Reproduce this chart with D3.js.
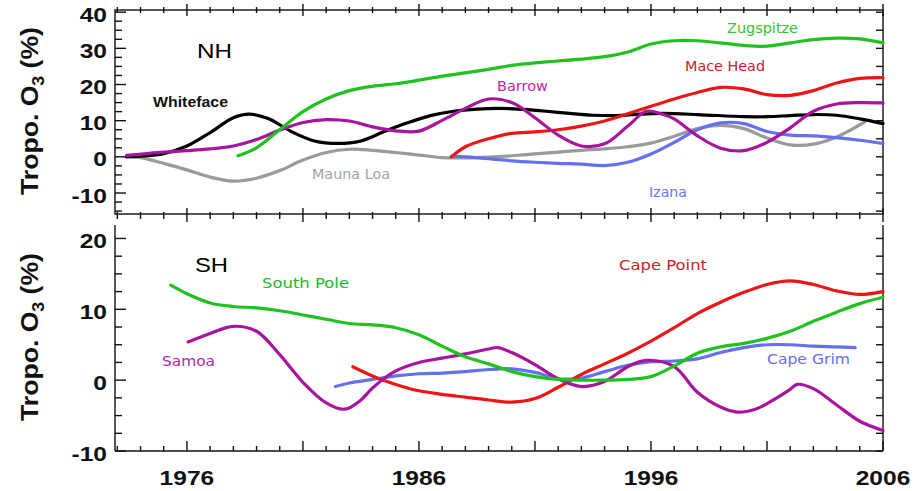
<!DOCTYPE html>
<html>
<head>
<meta charset="utf-8">
<script src="https://cdn.jsdelivr.net/npm/d3@7"></script>
<style>
  body { margin: 0; background: #fff; }
  svg { display: block; }
</style>
</head>
<body>
<div id="chart"></div>
<script>
// station records, [year, tropospheric O3 change in %]
// northern hemisphere
var whiteface = [[1973.4,0],[1974,0.2],[1975,0.9],[1976,3],[1977,6.7],[1978,10.8],[1978.7,11.8],[1979.5,10.6],[1980.5,7],[1981.5,4.4],[1982.5,3.7],[1983.5,4.4],[1984.5,7.0],[1985.5,9.4],[1986.5,11.4],[1987.5,12.6],[1988.5,13.2],[1989.5,13.4],[1990.5,13.1],[1991.5,12.6],[1992.5,12],[1993.5,11.5],[1994.5,11.4],[1995.5,11.8],[1996.5,12.0],[1998,11.7],[2000,11.1],[2001,11.1],[2002,11.4],[2003,11.7],[2004,11.5],[2005,10.5],[2006,9.2]];
var barrow = [[1973.4,0.4],[1975,1.3],[1976,1.7],[1977,2.2],[1978,3.0],[1979,4.8],[1980,7.4],[1981,9.5],[1982,10.3],[1983,9.9],[1984,8.3],[1985,7.2],[1986,7.1],[1987,10.1],[1988,13.4],[1989,16],[1990,15],[1991,10.8],[1992,6],[1993,3],[1994,3.6],[1995,8.5],[1995.8,12.6],[1996.5,11.8],[1997,10.5],[1998,5.8],[1999,2.4],[2000,1.7],[2001,4],[2002,8],[2003,12.6],[2004,14.6],[2005,15],[2006,14.9]];
var zugspitze = [[1978.2,0.3],[1979,2.5],[1980,7.5],[1981,12.5],[1982,16],[1983,18.3],[1984,19.5],[1985,20.2],[1986,21.2],[1987,22.3],[1988,23.2],[1989,24.2],[1990,25.3],[1991,26],[1992,26.5],[1993,27],[1994,27.7],[1995,29],[1996,31.2],[1997,32.1],[1998,32.1],[1999,31.5],[2000,30.8],[2001,30.6],[2002,31.5],[2003,32.4],[2004,32.8],[2005,32.6],[2006,31.5]];
var maceHead = [[1987.4,0],[1988,2.8],[1989,5],[1990,6.5],[1991,6.9],[1992,7.5],[1993,8.5],[1994,9.9],[1995,11.9],[1996,14],[1997,16],[1998,17.8],[1999,19.2],[2000,18.8],[2001,17.2],[2002,17],[2003,18.3],[2004,20.4],[2005,21.7],[2006,21.9]];
var maunaLoa = [[1973.4,0.2],[1974,-0.2],[1975,-1.8],[1976,-3.6],[1977,-5.6],[1978,-6.7],[1979,-5.9],[1980,-3.8],[1981,-0.9],[1982,1.2],[1983,2.1],[1984,1.8],[1985,1.2],[1986,0.5],[1987,-0.2],[1988,-0.3],[1989,-0.1],[1990,0.3],[1991,0.8],[1992,1.3],[1993,1.8],[1994,2.2],[1995,2.8],[1996,3.8],[1997,5.7],[1998,7.8],[1999,8.7],[2000,7.8],[2001,5.2],[2002,3.3],[2003,3.5],[2004,5.5],[2005.2,9.6]];
var izana = [[1987.4,0.2],[1988,0],[1989,-0.5],[1990,-1.1],[1991,-1.5],[1992,-1.8],[1993,-2.0],[1994,-2.4],[1995,-1.5],[1996,0.8],[1997,4],[1998,7.5],[1999,9.4],[2000,9.2],[2001,7],[2002,6],[2003,5.8],[2004,5.3],[2005,4.6],[2006,3.7]];
// southern hemisphere
var southPole = [[1975.3,13.4],[1976,12.2],[1977,10.9],[1978,10.4],[1979,10.2],[1980,9.8],[1981,9.2],[1982,8.6],[1983,8.0],[1984,7.8],[1985,7.4],[1986,6.4],[1987,4.8],[1988,3.3],[1989,2.3],[1990,1.2],[1991,0.5],[1992,0.1],[1993,0],[1994,0],[1995,0.1],[1996,0.5],[1997,2.0],[1998,3.8],[1999,4.7],[2000,5.2],[2001,5.9],[2002,6.9],[2003,8.3],[2004,9.6],[2005,10.8],[2006,11.7]];
var samoa = [[1976.05,5.4],[1977,6.6],[1978,7.6],[1979,6.9],[1980,3.6],[1981,-0.3],[1982,-3.2],[1982.8,-4.1],[1983.5,-2.8],[1984,-1.1],[1985,1.3],[1986,2.5],[1987,3.1],[1988,3.7],[1989,4.4],[1989.4,4.6],[1990,3.9],[1991,2.2],[1992,0.2],[1993,-0.9],[1994,-0.2],[1995,1.9],[1995.8,2.8],[1997,1.9],[1998,-1.7],[1999,-3.8],[1999.7,-4.5],[2000.5,-4.1],[2001,-3.3],[2002,-1.3],[2002.3,-0.6],[2003,-1.2],[2004,-3.5],[2005,-5.8],[2006,-7.1]];
var capePoint = [[1983.15,1.9],[1984,0.6],[1985,-0.6],[1986,-1.5],[1987,-2],[1988,-2.4],[1989,-2.8],[1990,-3.1],[1991,-2.6],[1992,-1.0],[1993,0.8],[1994,2.3],[1995,3.8],[1996,5.5],[1997,7.4],[1998,9.4],[1999,11.0],[2000,12.4],[2001,13.5],[2002,14.0],[2003,13.5],[2004,12.6],[2005,12.1],[2006,12.5]];
var capeGrim = [[1982.4,-0.9],[1983,-0.4],[1984,0.1],[1985,0.6],[1986,0.9],[1987,1.0],[1988,1.2],[1989,1.5],[1990,1.6],[1991,1.1],[1992,0.2],[1993,0.3],[1994,1.2],[1995,2.1],[1996,2.6],[1997,2.7],[1998,3.0],[1999,3.9],[2000,4.6],[2001,5.0],[2002,5.0],[2003,4.8],[2004,4.7],[2004.8,4.6]];

var yearLabels = [1976, 1986, 1996, 2006];
var nhTicks = [-10, 0, 10, 20, 30, 40];
var shTicks = [-10, 0, 10, 20];

var W = 922, H = 491;
var svg = d3.select('#chart').append('svg')
    .attr('width', W)
    .attr('height', H)
    .style('background', '#fff');

var x = d3.scaleLinear().domain([1972.9, 2006]).range([115, 883]);
var yTop = d3.scaleLinear().domain([-15.8, 40.6]).range([214, 10]);
var yBot = d3.scaleLinear().domain([-10, 21.9]).range([451, 225]);

var ax = svg.append('g').attr('stroke', '#111').attr('stroke-width', 1.4).attr('fill', 'none');

function seg(x1, y1, x2, y2) {
    ax.append('line').attr('x1', x1).attr('y1', y1).attr('x2', x2).attr('y2', y2);
}

var L = x.range()[0], R = x.range()[1];
var years = d3.range(1973, 2007);
function major(yr) { return (yr - 1976) % 5 == 0; }

// top panel frame
ax.append('rect').attr('x', L).attr('y', yTop.range()[1])
    .attr('width', R - L).attr('height', yTop.range()[0] - yTop.range()[1]);
years.forEach(function(yr) {
    var t = yTop.range()[1], b = yTop.range()[0];
    if (major(yr)) { seg(x(yr), t - 6, x(yr), t + 6); seg(x(yr), b - 6, x(yr), b + 8); }
    else { seg(x(yr), t - 3, x(yr), t + 3); seg(x(yr), b - 2, x(yr), b + 5); }
});
d3.range(-15, 41, 2.5).forEach(function(v) {
    seg(L, yTop(v), L + (v % 10 == 0 ? 11 : 7), yTop(v));
});
d3.range(-15, 41, 5).forEach(function(v) {
    seg(R, yTop(v), R - 7, yTop(v));
});

// bottom panel (no top line)
seg(L, yBot.range()[1], L, yBot.range()[0]);
seg(R, yBot.range()[1], R, yBot.range()[0]);
seg(L, yBot.range()[0], R, yBot.range()[0]);
years.forEach(function(yr) {
    var b = yBot.range()[0];
    seg(x(yr), b, x(yr), b - (major(yr) ? 10 : 5));
});
d3.range(-10, 21, 2.5).forEach(function(v) {
    seg(L, yBot(v), L + (v % 10 == 0 ? 11 : 7), yBot(v));
    seg(R, yBot(v), R - 7, yBot(v));
});

// tick labels (bold, a bit wide)
function boldNum(px, py, txt, anchor) {
    svg.append('text')
        .attr('transform', 'translate(' + px + ',' + py + ') scale(1.17,1)')
        .attr('text-anchor', anchor)
        .style('font', 'bold 21px "Liberation Sans", Arial, sans-serif')
        .attr('fill', '#111')
        .text(txt);
}
nhTicks.forEach(function(v) { boldNum(107, yTop(v) + 9.5, v, 'end'); });
shTicks.forEach(function(v) { boldNum(107, yBot(v) + 9.5, v, 'end'); });
yearLabels.forEach(function(yr) { boldNum(x(yr), 485, yr, 'middle'); });

// y titles
function yTitle(cy) {
    var t = svg.append('text')
        .attr('transform', 'translate(38,' + cy + ') rotate(-90)')
        .attr('text-anchor', 'middle')
        .attr('textLength', 168)
        .attr('lengthAdjust', 'spacingAndGlyphs')
        .style('font', 'bold 24px "Liberation Sans", Arial, sans-serif')
        .attr('fill', '#111');
    t.append('tspan').text('Tropo. O');
    t.append('tspan').attr('dy', 6).style('font-size', '16px').text('3');
    t.append('tspan').attr('dy', -6).text(' (%)');
}
yTitle(111);
yTitle(337);

// hemisphere tags
svg.append('text').attr('x', 197).attr('y', 58).attr('textLength', 35).attr('lengthAdjust', 'spacingAndGlyphs')
    .style('font', '21px "Liberation Sans", Arial, sans-serif').text('NH');
svg.append('text').attr('x', 195).attr('y', 272).attr('textLength', 33).attr('lengthAdjust', 'spacingAndGlyphs')
    .style('font', '21px "Liberation Sans", Arial, sans-serif').text('SH');

// lines
var green = '#1fc21f', red = '#ee1515', magenta = '#a8149e', blue = '#6470f0', grey = '#9a9a9a';

function drawLine(data, yScale, color) {
    var line = d3.line()
        .x(function(d) { return x(d[0]); })
        .y(function(d) { return yScale(d[1]); })
        .curve(d3.curveCatmullRom.alpha(0.5));
    svg.append('path')
        .datum(data)
        .attr('d', line)
        .attr('fill', 'none')
        .attr('stroke', color)
        .attr('stroke-width', 3.2)
        .attr('stroke-linecap', 'round');
}

drawLine(maunaLoa, yTop, grey);
drawLine(izana, yTop, blue);
drawLine(whiteface, yTop, '#000');
drawLine(maceHead, yTop, red);
drawLine(barrow, yTop, magenta);
drawLine(zugspitze, yTop, green);

drawLine(capeGrim, yBot, blue);
drawLine(capePoint, yBot, red);
drawLine(samoa, yBot, magenta);
drawLine(southPole, yBot, green);

// station names
var labels = [
    {t: 'Whiteface', x: 153, y: 107, w: 75, c: '#111', b: true},
    {t: 'Mauna Loa', x: 312, y: 179, w: 78, c: '#a3a3a3'},
    {t: 'Barrow', x: 497, y: 90.5, w: 51, c: '#b82aa8'},
    {t: 'Zugspitze', x: 727, y: 33, w: 71, c: '#33c433'},
    {t: 'Mace Head', x: 685, y: 70.5, w: 80, c: '#c8232c'},
    {t: 'Izana', x: 649, y: 196.5, w: 38, c: '#6a74ee'},
    {t: 'South Pole', x: 262, y: 288, w: 87, c: '#25b825'},
    {t: 'Samoa', x: 162, y: 366, w: 53, c: '#b81fa8'},
    {t: 'Cape Point', x: 619, y: 270, w: 88, c: '#d01a22'},
    {t: 'Cape Grim', x: 767, y: 364, w: 83, c: '#6a6eee'}
];
svg.selectAll('text.lab')
    .data(labels)
    .enter().append('text')
        .attr('class', 'lab')
        .attr('x', function(d) { return d.x; })
        .attr('y', function(d) { return d.y; })
        .attr('textLength', function(d) { return d.w; })
        .attr('lengthAdjust', 'spacingAndGlyphs')
        .attr('fill', function(d) { return d.c; })
        .style('font-family', function(d) { return d.b ? '"Liberation Sans", Arial, sans-serif' : '"DejaVu Sans", Verdana, sans-serif'; })
        .style('font-size', function(d) { return d.b ? '15px' : '14px'; })
        .style('font-weight', function(d) { return d.b ? 'bold' : 'normal'; })
        .text(function(d) { return d.t; });
</script>
</body>
</html>
